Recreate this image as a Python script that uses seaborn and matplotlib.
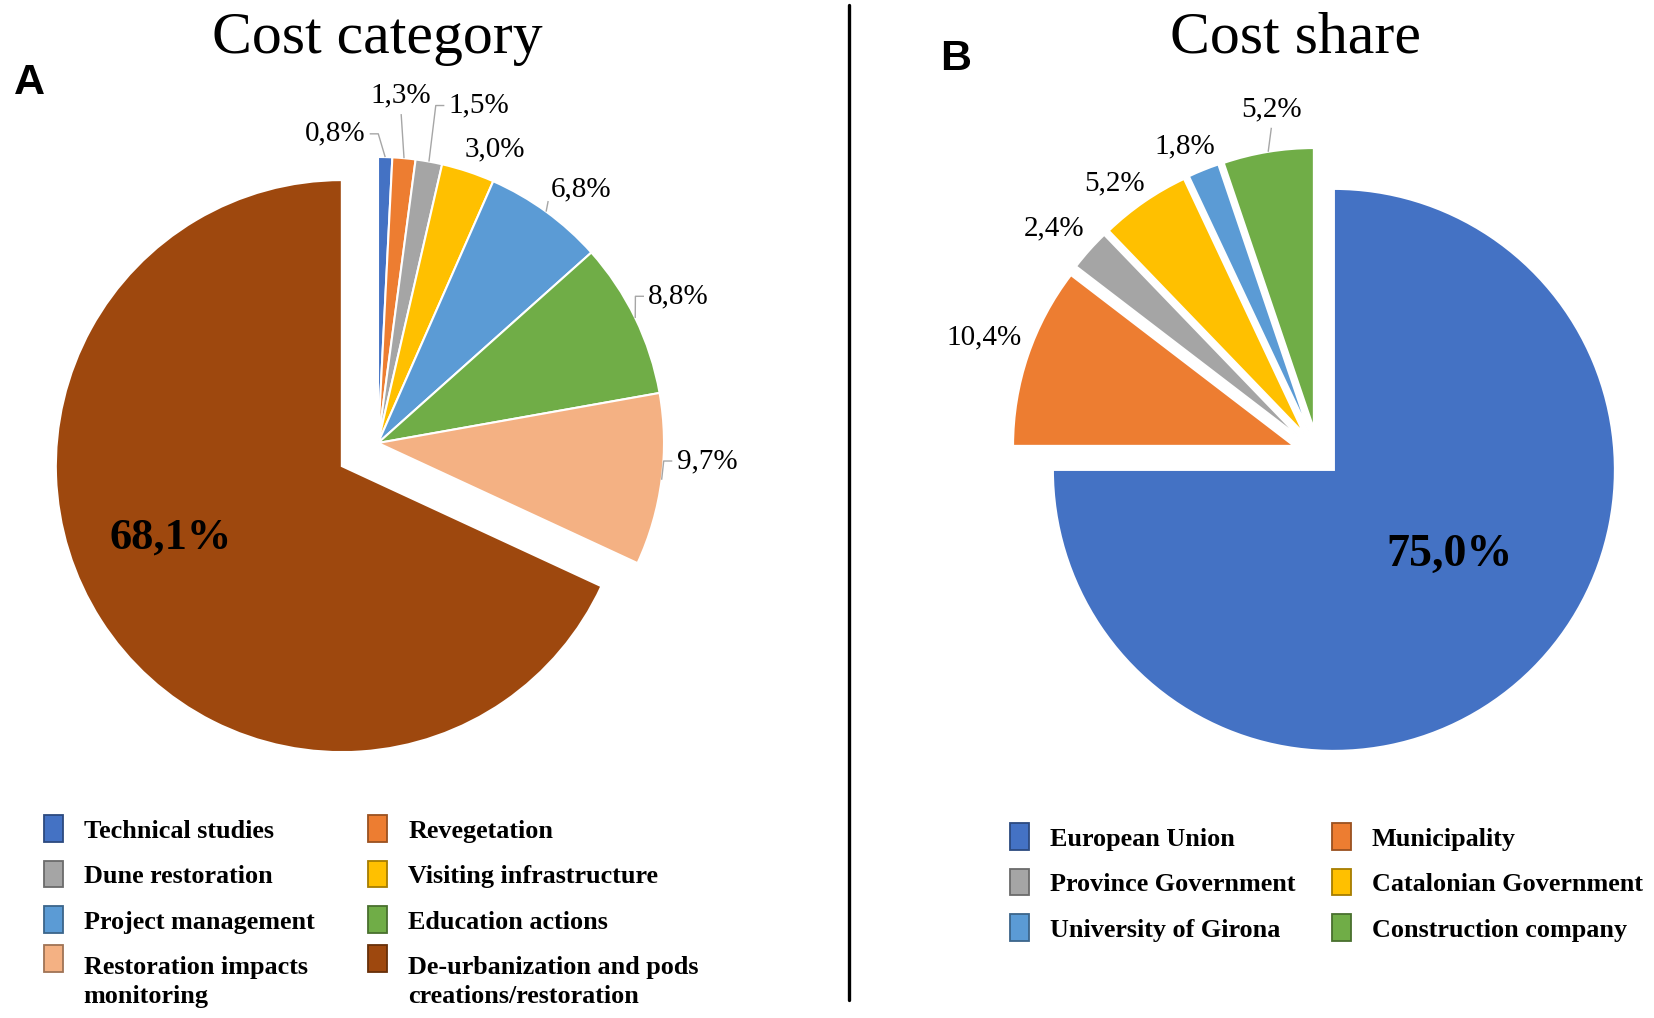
import matplotlib
matplotlib.use("Agg")
import matplotlib.pyplot as plt
import matplotlib.colors as mcolors
from matplotlib.patches import Patch, Rectangle
from matplotlib.legend_handler import HandlerPatch
import seaborn as sns
import numpy as np

# 数据
category_labels = ["Technical studies", "Revegetation", "Dune restoration",
                   "Visiting infrastructure", "Project management", "Education actions",
                   "Restoration impacts\nmonitoring",
                   "De-urbanization and pods\ncreations/restoration"]
category_pct = [0.8, 1.3, 1.5, 3.0, 6.8, 8.8, 9.7, 68.1]

share_labels = ["European Union", "Municipality", "Province Government",
                "Catalonian Government", "University of Girona", "Construction company"]
share_pct = [75.0, 10.4, 2.4, 5.2, 1.8, 5.2]

palette = ["#4472C4", "#ED7D31", "#A5A5A5", "#FFC000",
           "#5B9BD5", "#70AD47", "#F4B183", "#9E480E"]

# 设置风格
sns.set_theme(style="white")
plt.rcParams['font.family'] = ['Liberation Serif', 'DejaVu Serif']
plt.rcParams['text.color'] = 'black'

W, H = 1654, 1018
fig = plt.figure(figsize=(W / 100, H / 100), dpi=100)

LEGEND_SIZE = 18.8
LINE_SPACING = 1.3


def fmt(v):
    return f"{v:.1f}".replace(".", ",") + "%"


def full_axes():
    ax = fig.add_axes([0, 0, 1, 1])
    ax.set_facecolor("none")
    return ax


def place(ax, cx, cy, r):
    # one data unit = one pie radius, pie centre at pixel (cx, cy) from top-left
    ax.set_xlim(-cx / r, (W - cx) / r)
    ax.set_ylim(-(H - cy) / r, cy / r)
    ax.set_aspect("auto")
    ax.axis("off")


def arc_mid(w):
    t = np.deg2rad((w.theta1 + w.theta2) / 2)
    return w.center[0] + w.r * np.cos(t), w.center[1] + w.r * np.sin(t)


def draw_labels(ax, wedges, values, layout, big_size):
    for w, v, (x, y, ha, lead) in zip(wedges, values, layout):
        if lead == "big":
            ax.text(x, y, fmt(v), ha="center", va="center", fontsize=big_size,
                    fontweight="bold", color="black")
            continue
        ax.text(x, y, fmt(v), ha=ha, va="center", fontsize=21, color="black")
        if lead is None:
            continue
        px, py = arc_mid(w)
        if lead == "h":
            sx = x + 0.015 if ha == "right" else x - 0.015
            ex = sx + (0.03 if ha == "right" else -0.03)
            xs, ys = [sx, ex, px], [y, y, py]
        elif lead == "v":
            xs, ys = [x, px], [y - 0.065, py]
        else:
            xs, ys = [x - 0.01, px], [y - 0.04, py]
        ax.plot(xs, ys, color="#A6A6A6", lw=1.0, solid_capstyle="butt")


def top_patch(legend, orig_handle, xdescent, ydescent, width, height, fontsize):
    # swatch drawn level with the first line of the label
    n = orig_handle.get_label().count("\n")
    off = n * LINE_SPACING * 0.68 * fontsize
    return Rectangle((-xdescent, -0.15 * fontsize + off), width, 1.02 * fontsize)


def add_legend(labels, colors, x, y, colspacing):
    handles = []
    for lab, c in zip(labels, colors):
        dark = tuple(np.array(mcolors.to_rgb(c)) * 0.65)
        handles.append(Patch(facecolor=c, edgecolor=dark, linewidth=1.3, label=lab))
    order = list(range(0, len(handles), 2)) + list(range(1, len(handles), 2))
    handles = [handles[i] for i in order]
    leg = fig.legend(handles=handles, labels=[h.get_label() for h in handles],
                     loc="upper left", bbox_to_anchor=(x / W, 1 - y / H),
                     bbox_transform=fig.transFigure, ncol=2, frameon=False,
                     prop={"family": "Liberation Serif", "weight": "bold",
                           "size": LEGEND_SIZE},
                     handlelength=0.72, handleheight=0.65, handletextpad=0.8,
                     columnspacing=colspacing, labelspacing=0.86,
                     borderpad=0, borderaxespad=0,
                     handler_map={Patch: HandlerPatch(patch_func=top_patch)})
    for t in leg.get_texts():
        t.set_linespacing(LINE_SPACING)
        t.set_color("black")
    return leg


# A: cost category
axA = full_axes()
wedges_a, _ = axA.pie(category_pct, colors=palette, startangle=90, counterclock=False,
                      explode=[0, 0, 0, 0, 0, 0, 0, 0.15],
                      wedgeprops=dict(edgecolor="white", linewidth=1.5))
place(axA, 378, 443, 286)
layout_a = [(-0.044, 1.081, "right", "h"),
            (0.081, 1.215, "center", "v"),
            (0.247, 1.180, "left", "h"),
            (0.303, 1.026, "left", None),
            (0.605, 0.886, "left", "s"),
            (0.945, 0.513, "left", "h"),
            (1.044, -0.063, "left", "h"),
            (-0.724, -0.329, "center", "big")]
draw_labels(axA, wedges_a, category_pct, layout_a, 32)

# B: cost share
axB = full_axes()
wedges_b, _ = axB.pie(share_pct, colors=palette[:6], startangle=90, counterclock=False,
                      explode=[0.08, 0.09, 0.09, 0.09, 0.09, 0.09],
                      wedgeprops=dict(edgecolor="white", linewidth=1.5))
place(axB, 1318, 454, 281)
layout_b = [(0.468, -0.358, "center", "big"),
            (-1.187, 0.414, "center", None),
            (-0.940, 0.802, "center", None),
            (-0.724, 0.963, "center", None),
            (-0.474, 1.093, "center", None),
            (-0.166, 1.226, "center", "v")]
draw_labels(axB, wedges_b, share_pct, layout_b, 33)

# titles, panel letters, divider (pixel coordinates)
axP = full_axes()
axP.set_xlim(0, W)
axP.set_ylim(H, 0)
axP.axis("off")
axP.text(377, 53, "Cost category", ha="center", va="baseline", fontsize=43)
axP.text(1295, 52, "Cost share", ha="center", va="baseline", fontsize=43)
axP.text(14, 94, "A", ha="left", va="baseline", fontsize=31, fontweight="bold",
         family=["Liberation Sans", "DejaVu Sans"])
axP.text(940, 70, "B", ha="left", va="baseline", fontsize=31, fontweight="bold",
         family=["Liberation Sans", "DejaVu Sans"])
axP.plot([849, 849], [5, 1000], color="black", lw=2.4)

add_legend(category_labels, palette, 44, 820, 2.07)
add_legend(share_labels, palette[:6], 1010, 828, 1.42)

fig.savefig("out.png", dpi=100, facecolor="white")
